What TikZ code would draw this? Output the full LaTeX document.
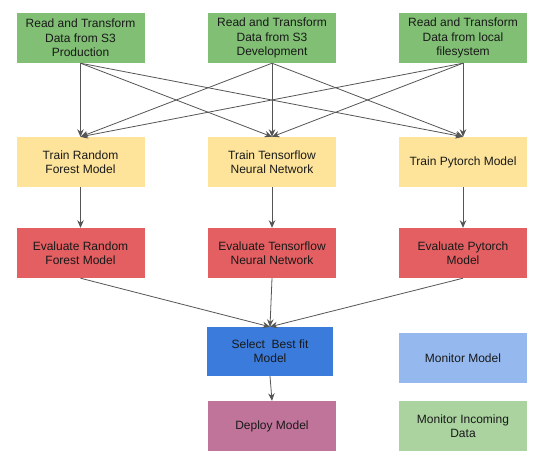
\documentclass[tikz,border=0pt]{standalone}
\usepackage{fontspec}
\setmainfont{Liberation Sans}
\usetikzlibrary{arrows.meta}
\definecolor{cgreen}{HTML}{80BF74}
\definecolor{cyellow}{HTML}{FEE49A}
\definecolor{cred}{HTML}{E35F62}
\definecolor{cblue}{HTML}{3A7BDB}
\definecolor{cpink}{HTML}{C0749A}
\definecolor{clblue}{HTML}{95B9EE}
\definecolor{clgreen}{HTML}{AAD3A0}
\definecolor{cline}{HTML}{555555}
\begin{document}
\begin{tikzpicture}[x=1pt,y=-1pt,
  box/.style={draw=none, minimum width=128pt, minimum height=50pt, inner sep=0pt,
    align=center, font=\fontsize{12}{14.4}\selectfont, text=black!90},
  conn/.style={draw=cline, line width=0.8pt, -{Stealth[length=7.5pt,width=6.5pt]}}]
\useasboundingbox (0,0) rectangle (554,469);
\fill[white] (0,0) rectangle (554,469);
% top row
\node[box, fill=cgreen] (s1) at (80.5,38) {Read and Transform\\Data from S3\\Production};
\node[box, fill=cgreen] (s2) at (272,38) {Read and Transform\\Data from S3\\Development};
\node[box, fill=cgreen] (s3) at (463,38) {Read and Transform\\Data from local\\filesystem};
% train row
\node[box, fill=cyellow] (t1) at (80.5,162) {Train Random\\Forest Model};
\node[box, fill=cyellow] (t2) at (272,162) {Train Tensorflow\\Neural Network};
\node[box, fill=cyellow] (t3) at (463,162) {Train Pytorch Model};
% evaluate row
\node[box, fill=cred] (e1) at (80.5,253) {Evaluate Random\\Forest Model};
\node[box, fill=cred] (e2) at (272,253) {Evaluate Tensorflow\\Neural Network};
\node[box, fill=cred] (e3) at (463,253) {Evaluate Pytorch\\Model};
% bottom
\node[box, fill=cblue, minimum width=126pt, minimum height=49pt] (sel) at (270,351.5) {Select~ Best fit\\Model};
\node[box, fill=cpink] (dep) at (272,426) {Deploy Model};
\node[box, fill=clblue] (mm) at (463,358) {Monitor Model};
\node[box, fill=clgreen] (mi) at (463,426) {Monitor Incoming\\Data};
% connectors
\foreach \s in {s1,s2,s3}{
  \foreach \t in {t1,t2,t3}{
    \draw[conn] (\s.south) -- (\t.north);
  }
}
\draw[conn] (t1.south) -- (e1.north);
\draw[conn] (t2.south) -- (e2.north);
\draw[conn] (t3.south) -- (e3.north);
\draw[conn] (e1.south) -- (sel.north);
\draw[conn] (e2.south) -- (sel.north);
\draw[conn] (e3.south) -- (sel.north);
\draw[conn] (sel.south) -- (dep.north);
\end{tikzpicture}
\end{document}
